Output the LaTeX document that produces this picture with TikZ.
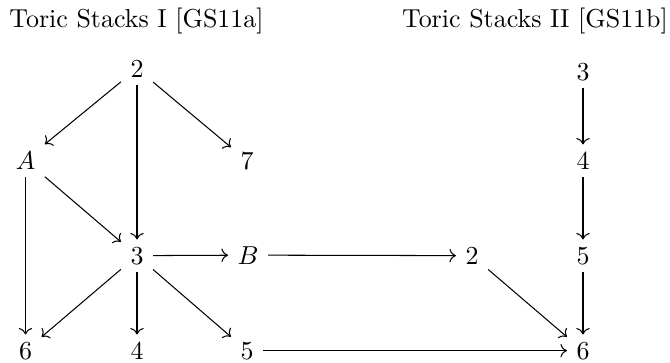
\documentclass[tikz,border=0pt]{standalone}
\usetikzlibrary{cd}
\begin{document}
\begin{tikzpicture}[x=0.3853pt,y=-0.3853pt,
  obj/.style={inner xsep=3.5pt,inner ysep=2.8pt,anchor=base},
  ttl/.style={inner sep=0pt,anchor=base},
  arr/.style={-{cm to},line width=0.4pt}]
\useasboundingbox (0,0) rectangle (670,362);
\node[ttl] (t1) at (136.5,27) {Toric Stacks I [GS11a]};
\node[ttl] (t2) at (535,27) {Toric Stacks II [GS11b]};
% left diagram
\node[obj] (l2) at (137,77) {$2$};
\node[obj] (lA) at (25.5,169) {$A$};
\node[obj] (l7) at (247,169) {$7$};
\node[obj] (l3) at (137,264) {$3$};
\node[obj] (lB) at (248,264) {$B$};
\node[obj] (l6) at (25.5,359) {$6$};
\node[obj] (l4) at (137,359) {$4$};
\node[obj] (l5) at (247,359) {$5$};
\node[obj] (m2) at (472,264) {$2$};
% right column
\node[obj] (r3) at (583,80) {$3$};
\node[obj] (r4) at (583,169) {$4$};
\node[obj] (r5) at (583,264) {$5$};
\node[obj] (r6) at (583,359) {$6$};
\draw[arr] (l2) -- (lA);
\draw[arr] (l2) -- (l3);
\draw[arr] (l2) -- (l7);
\draw[arr] (lA) -- (l3);
\draw[arr] (lA) -- (l6);
\draw[arr] (l3) -- (lB);
\draw[arr] (l3) -- (l6);
\draw[arr] (l3) -- (l4);
\draw[arr] (l3) -- (l5);
\draw[arr] (lB) -- (m2);
\draw[arr] (m2) -- (r6);
\draw[arr] (l5) -- (r6);
\draw[arr] (r3) -- (r4);
\draw[arr] (r4) -- (r5);
\draw[arr] (r5) -- (r6);
\end{tikzpicture}
\end{document}
